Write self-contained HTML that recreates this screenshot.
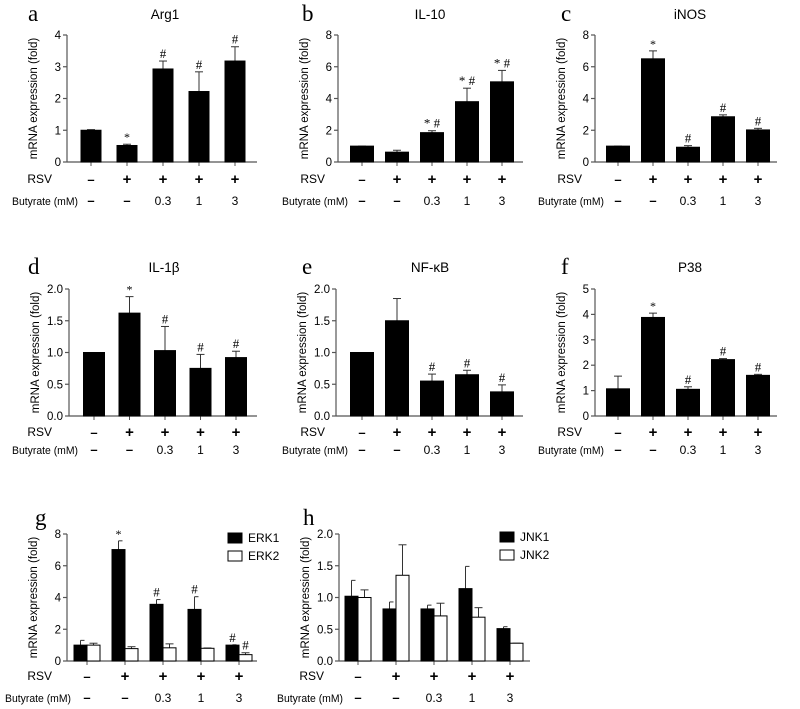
<!DOCTYPE html>
<html><head><meta charset="utf-8"><style>
body{margin:0;background:#fff}
svg{display:block;font-family:"Liberation Sans",sans-serif}
</style></head><body>
<svg id="fig" width="800" height="709" viewBox="0 0 800 709" xmlns="http://www.w3.org/2000/svg"></svg>
<script>
const conditionsRSV = ['-','+','+','+','+'];
const conditionsBut = ['-','-','0.3','1','3'];
const aVals = [1,0.52,2.93,2.22,3.18];
const aErr = [0.02,0.04,0.25,0.62,0.45];
const aAnn = ['','*','#','#','#'];
const bVals = [1,0.62,1.85,3.8,5.05];
const bErr = [0,0.12,0.12,0.85,0.72];
const bAnn = ['','','* #','* #','* #'];
const cVals = [1,6.5,0.93,2.85,2.02];
const cErr = [0,0.5,0.1,0.12,0.1];
const cAnn = ['','*','#','#','#'];
const dVals = [1,1.62,1.03,0.75,0.92];
const dErr = [0,0.26,0.38,0.22,0.1];
const dAnn = ['','*','#','#','#'];
const eVals = [1,1.5,0.55,0.65,0.38];
const eErr = [0,0.35,0.11,0.07,0.11];
const eAnn = ['','','#','#','#'];
const fVals = [1.07,3.88,1.05,2.22,1.6];
const fErr = [0.5,0.17,0.1,0.04,0.04];
const fAnn = ['','*','#','#','#'];
const erk1Vals = [1,7.02,3.57,3.25,1];
const erk1Err = [0.3,0.55,0.3,0.8,0.02];
const erk1Ann = ['','*','#','#','#'];
const erk2Vals = [1,0.78,0.83,0.8,0.4];
const erk2Err = [0.12,0.12,0.25,0.02,0.12];
const erk2Ann = ['','','','','#'];
const jnk1Vals = [1.02,0.82,0.82,1.14,0.51];
const jnk1Err = [0.25,0.11,0.06,0.35,0.03];
const jnk2Vals = [1,1.35,0.71,0.69,0.28];
const jnk2Err = [0.12,0.48,0.2,0.15,0];
const ticksA = ['0','1','2','3','4'];
const ticks8 = ['0','2','4','6','8'];
const ticks2 = ['0.0','0.5','1.0','1.5','2.0'];
const ticks5 = ['0','1','2','3','4','5'];

const NS='http://www.w3.org/2000/svg';
const svg=document.getElementById('fig');
function mk(tag,attrs,parent,text){const e=document.createElementNS(NS,tag);for(const k in attrs)e.setAttribute(k,attrs[k]);if(text!==undefined)e.textContent=text;(parent||svg).appendChild(e);return e;}

function panel(p){
  const g=mk('g',{});
  
  
  const ymax=parseFloat(p.ticks[p.ticks.length-1]);
  const y=v=>p.y0-(v/ymax)*(p.y0-p.yTop);
  const cx=i=>p.first+i*p.step;
  const lt=mk('text',{x:p.lx,y:p.ly,'font-family':'Liberation Serif,serif','font-size':23},g,p.letter);
  
  
  if(p.title){const t=mk('text',{x:p.tx,y:p.ly-2,'font-size':13.5,'text-anchor':'middle'},g,p.title);
    
    }
  mk('line',{x1:p.x0,y1:p.yTop,x2:p.x0,y2:p.y0,stroke:'#555','stroke-width':1.2},g);
  mk('line',{x1:p.x0,y1:p.y0,x2:p.x1,y2:p.y0,stroke:'#555','stroke-width':1.2},g);
  p.ticks.forEach(tk=>{const v=parseFloat(tk),yy=y(v);
    mk('line',{x1:p.x0-4,y1:yy,x2:p.x0,y2:yy,stroke:'#555','stroke-width':1.2},g);
    const tl=mk('text',{x:p.x0-6,y:yy+4,'font-size':11.5,'text-anchor':'end'},g,tk);
    
    });
  conditionsRSV.forEach((c,i)=>mk('line',{x1:cx(i),y1:p.y0,x2:cx(i),y2:p.y0+4,stroke:'#555'},g));
  const yt=mk('text',{transform:`translate(${p.x0-30},${(p.y0+p.yTop)/2}) rotate(-90)`,'font-size':11.5,'text-anchor':'middle'},g,'mRNA expression (fold)');
  
  
  p.series.forEach((s,si)=>{
    s.vals.forEach((v,i)=>{
      const bx=p.series.length===1?cx(i)-p.bw/2:cx(i)-p.bw+si*p.bw;
      const top=y(v), et=y(v+s.err[i]);
      const ec=bx+p.bw/2;
      mk('line',{x1:ec,y1:top,x2:ec,y2:et,stroke:'#333','stroke-width':1},g);
      mk('line',{x1:ec-(si===0?0:4),y1:et,x2:ec+4,y2:et,stroke:'#333','stroke-width':1},g);
      if(si===0&&p.series.length===1)mk('line',{x1:ec-4,y1:et,x2:ec,y2:et,stroke:'#333'},g);
      const r=mk('rect',{x:bx,y:top,width:p.bw,height:p.y0-top,fill:s.fill,stroke:'#000','stroke-width':1},g);
      
      
      if(s.ann&&s.ann[i]){const a=mk('text',{x:ec,y:et-3,'font-size':s.ann[i]==='*'?12:13,'text-anchor':'middle','font-family':'Liberation Serif,serif'},g,s.ann[i]);
        
        }
    });
  });
  const r1=mk('text',{x:p.rsvX,y:p.rsvY+4,'font-size':12,'text-anchor':'end'},g,'RSV');
  
  
  const r2=mk('text',{x:p.butX,y:p.butY+4,'font-size':11,textLength:66,lengthAdjust:'spacingAndGlyphs'},g,'Butyrate (mM)');
  
  
  conditionsRSV.forEach((c,i)=>{const t=mk('text',{x:cx(i),y:p.rsvY+5,'font-size':c==='+'?15:13,'font-weight':'bold','text-anchor':'middle'},g,c==='-'?'–':'+');
    
    });
  conditionsBut.forEach((c,i)=>{const t=mk('text',{x:cx(i),y:p.butY+4,'font-size':c==='-'?13:12,'font-weight':c==='-'?'bold':'normal','text-anchor':'middle'},g,c==='-'?'–':c);
    
    });
  if(p.legend){p.legend.forEach((L,li)=>{
    const ly=p.legY+li*18;
    mk('rect',{x:p.legX,y:ly-5,width:14,height:10,fill:L.fill,stroke:'#000'},g);
    const t=mk('text',{x:p.legX+20,y:ly+4,'font-size':12},g,L.name);
    
    
  });}
}
const r1={yTop:35,y0:162,rsvY:179,butY:201,ly:21};
const r2={yTop:289,y0:416,rsvY:432,butY:450,ly:274};
const r3={yTop:534,y0:661,rsvY:676,butY:698,ly:525};
panel(Object.assign({letter:'a',title:'Arg1',lx:28,tx:165,x0:67,x1:257,first:91,step:36,bw:20,rsvX:52,butX:12,ticks:ticksA,series:[{name:'arg1',vals:aVals,err:aErr,ann:aAnn,fill:'#000'}]},r1));
panel(Object.assign({letter:'b',title:'IL-10',lx:302,tx:430,x0:338,x1:523,first:362,step:35,bw:23,rsvX:325,butX:282,ticks:ticks8,series:[{name:'il10',vals:bVals,err:bErr,ann:bAnn,fill:'#000'}]},r1));
panel(Object.assign({letter:'c',title:'iNOS',lx:561,tx:690,x0:595,x1:777,first:618,step:35,bw:23,rsvX:582,butX:538,ticks:ticks8,series:[{name:'inos',vals:cVals,err:cErr,ann:cAnn,fill:'#000'}]},r1));
panel(Object.assign({letter:'d',title:'IL-1β',lx:28,tx:164,x0:69,x1:257,first:94,step:35.5,bw:21,rsvX:52,butX:12,ticks:ticks2,series:[{name:'il1b',vals:dVals,err:dErr,ann:dAnn,fill:'#000'}]},r2));
panel(Object.assign({letter:'e',title:'NF-κB',lx:302,tx:430,x0:336,x1:523,first:362,step:35,bw:23,rsvX:325,butX:282,ticks:ticks2,series:[{name:'nfkb',vals:eVals,err:eErr,ann:eAnn,fill:'#000'}]},r2));
panel(Object.assign({letter:'f',title:'P38',lx:561,tx:690,x0:595,x1:777,first:618,step:35,bw:23,rsvX:582,butX:538,ticks:ticks5,series:[{name:'p38',vals:fVals,err:fErr,ann:fAnn,fill:'#000'}]},r2));
panel(Object.assign({letter:'g',lx:35,x0:67,x1:257,first:87,step:38,bw:13,rsvX:52,butX:5,ticks:ticks8,legX:228,legY:538,
  legend:[{name:'ERK1',fill:'#000'},{name:'ERK2',fill:'#fff'}],
  series:[{name:'erk1',vals:erk1Vals,err:erk1Err,ann:erk1Ann,fill:'#000'},{name:'erk2',vals:erk2Vals,err:erk2Err,ann:erk2Ann,fill:'#fff'}]},r3));
panel(Object.assign({letter:'h',lx:303,x0:339,x1:530,first:358,step:38,bw:13,rsvX:324,butX:277,ticks:ticks2,legX:500,legY:537,
  legend:[{name:'JNK1',fill:'#000'},{name:'JNK2',fill:'#fff'}],
  series:[{name:'jnk1',vals:jnk1Vals,err:jnk1Err,fill:'#000'},{name:'jnk2',vals:jnk2Vals,err:jnk2Err,fill:'#fff'}]},r3));
</script>
</body></html>
